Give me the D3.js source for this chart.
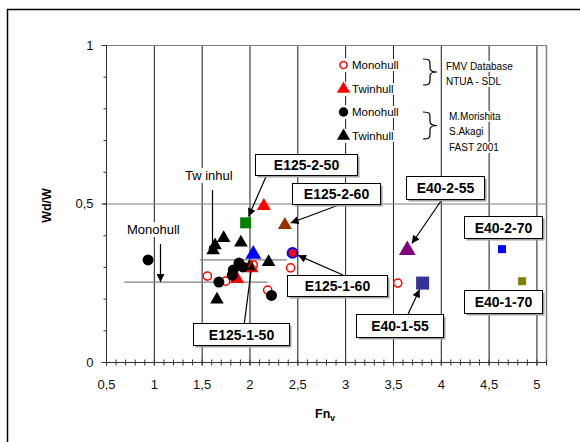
<!DOCTYPE html>
<html>
<head>
<meta charset="utf-8">
<script src="https://cdn.jsdelivr.net/npm/d3@7"></script>
<style>
  html, body { margin: 0; padding: 0; background: #fff; }
  svg { display: block; font-family: Arial, "Liberation Sans", sans-serif; }
</style>
</head>
<body>
<svg id="chart" width="580" height="442"></svg>
<script>
// ---- data: Fn_v (x) and Wd/W (y) ----
const fmvMonohull = [[1.56, 0.271], [1.75, 0.255], [2.04, 0.306], [2.19, 0.227], [2.43, 0.297], [3.55, 0.249]];
const fmvTwinhull = [[2.15, 0.492], [1.87, 0.262], [2.02, 0.296]];
const fastMonohull = [[0.94, 0.322], [1.68, 0.252], [2.23, 0.21], [1.82, 0.274], [1.83, 0.29], [1.89, 0.312], [1.93, 0.30]];
const fastTwinhull = [[1.73, 0.391], [1.64, 0.368], [1.62, 0.352], [1.91, 0.377], [2.2, 0.315], [2.0, 0.30], [1.66, 0.197]];

const modelNames = ["E125-2-50", "E125-2-60", "E125-1-60", "E125-1-50", "E40-2-55", "E40-1-55", "E40-2-70", "E40-1-70"];
const modelFn    = [1.96, 2.37, 2.45, 2.04, 3.65, 3.81, 4.64, 4.85];
const modelWd    = [0.439, 0.432, 0.344, 0.340, 0.353, 0.249, 0.356, 0.255];

// mean lines and their annotations
const monohullMean = { wd: 0.252, fnFrom: 0.69, fnTo: 2.19 };
const twinhullMean = { wd: 0.322, fnFrom: 1.48, fnTo: 2.39 };

const xMajorTicks = [0.5, 1, 1.5, 2, 2.5, 3, 3.5, 4, 4.5, 5];
const yMajorTicks = [0, 0.5, 1];

// ---- layout ----
const svg = d3.select("#chart");
const plotL = 106, plotR = 546, plotT = 45, plotB = 362;
const x = d3.scaleLinear().domain([0.5, 5.1]).range([plotL, plotR]);
const y = d3.scaleLinear().domain([0, 1]).range([plotB, plotT]);
const comma = d => String(d).replace(".", ",");

// chart frame
svg.append("rect").attr("x", 7.5).attr("y", 9.5).attr("width", 620).attr("height", 500)
  .attr("fill", "none").attr("stroke", "#000").attr("stroke-width", 1.5);

// grid
const grid = svg.append("g");
grid.selectAll("line.v").data(xMajorTicks.filter(d => d > 0.5)).join("line")
  .attr("x1", d => x(d) + 0.5).attr("x2", d => x(d) + 0.5)
  .attr("y1", plotT).attr("y2", plotB)
  .attr("stroke", "#1a1a1a").attr("stroke-width", 1);
grid.selectAll("line.h").data([0.5, 1]).join("line")
  .attr("x1", plotL).attr("x2", plotR)
  .attr("y1", d => y(d) + 0.5).attr("y2", d => y(d) + 0.5)
  .attr("stroke", "#808080").attr("stroke-width", 1.2);
grid.append("line").attr("x1", plotR + 0.5).attr("x2", plotR + 0.5)
  .attr("y1", plotT).attr("y2", plotB).attr("stroke", "#808080").attr("stroke-width", 1.5);

// axes
const xMinor = d3.range(5, 52).map(i => i / 10);
const yMinor = d3.range(0, 11).map(i => i / 10);
const xAxisMinor = d3.axisBottom(x).tickValues(xMinor).tickSizeInner(3).tickSizeOuter(0).tickFormat("");
const gxm = svg.append("g").attr("transform", `translate(0,${plotB + 0.5})`).call(xAxisMinor);
gxm.selectAll(".tick line").attr("y1", -3);
const xAxis = d3.axisBottom(x).tickValues(xMajorTicks).tickSize(3).tickSizeOuter(0).tickFormat(comma);
const gx = svg.append("g").attr("transform", `translate(0,${plotB + 0.5})`).call(xAxis);
gx.selectAll(".tick text").attr("font-size", 13).attr("font-family", "Arial, 'Liberation Sans'").attr("fill", "#111").attr("dy", "1.55em");
[gx, gxm].forEach(g => { g.select(".domain").attr("stroke", "#333").attr("d", `M${plotL},0H${plotR}`); g.selectAll(".tick line").attr("stroke", "#333"); });

const yAxisMinor = d3.axisLeft(y).tickValues(yMinor).tickSizeInner(3).tickSizeOuter(0).tickFormat("");
const gym = svg.append("g").attr("transform", `translate(${plotL + 0.5},0)`).call(yAxisMinor);
const yAxis = d3.axisLeft(y).tickValues(yMajorTicks).tickSize(5).tickSizeOuter(0).tickFormat(comma);
const gy = svg.append("g").attr("transform", `translate(${plotL + 0.5},0)`).call(yAxis);
gy.selectAll(".tick text").attr("font-size", 13).attr("font-family", "Arial, 'Liberation Sans'").attr("fill", "#111").attr("x", -13);
[gy, gym].forEach(g => { g.select(".domain").attr("stroke", "#333").attr("d", `M0,${plotT}V${plotB}`); g.selectAll(".tick line").attr("stroke", "#333"); });

// axis titles
svg.append("text").attr("transform", `translate(51,${(plotT + plotB) / 2 + 2}) rotate(-90)`)
  .attr("text-anchor", "middle").attr("font-size", 12.5).attr("font-weight", "bold").text("Wd/W");
const xt = svg.append("text").attr("x", 315).attr("y", 418).attr("font-size", 12.5).attr("font-weight", "bold");
xt.append("tspan").text("Fn");
xt.append("tspan").attr("font-size", 8.5).attr("dy", 3).text("v");

// arrow marker
svg.append("defs").append("marker").attr("id", "arr")
  .attr("viewBox", "0 0 10 10").attr("refX", 10).attr("refY", 5)
  .attr("markerUnits", "userSpaceOnUse").attr("markerWidth", 11).attr("markerHeight", 8)
  .attr("orient", "auto")
  .append("path").attr("d", "M0,0L10,5L0,10Z").attr("fill", "#000");

// white-backed text helper
function label(g, tx, ty, str, opts = {}) {
  const t = g.append("text").attr("x", tx).attr("y", ty)
    .attr("font-size", opts.size || 11).attr("font-weight", opts.weight || "normal")
    .attr("fill", "#000").text(str);
  const b = t.node().getBBox();
  g.insert("rect", () => t.node()).attr("x", b.x - 1).attr("y", b.y).attr("width", b.width + 2).attr("height", b.height).attr("fill", "#fff");
  return t;
}

// mean-value annotations
const ann = svg.append("g");
ann.append("line").attr("x1", x(monohullMean.fnFrom)).attr("x2", x(monohullMean.fnTo))
  .attr("y1", y(monohullMean.wd)).attr("y2", y(monohullMean.wd)).attr("stroke", "#808080").attr("stroke-width", 1.3);
ann.append("line").attr("x1", x(twinhullMean.fnFrom)).attr("x2", x(twinhullMean.fnTo))
  .attr("y1", y(twinhullMean.wd)).attr("y2", y(twinhullMean.wd)).attr("stroke", "#808080").attr("stroke-width", 1.3);
label(ann, 127, 234, "Monohull", { size: 13 });
label(ann, 185, 180, "Tw inhul", { size: 13 });
ann.append("line").attr("x1", 160.5).attr("x2", 160.5).attr("y1", 244).attr("y2", y(monohullMean.wd))
  .attr("stroke", "#000").attr("stroke-width", 1.2).attr("marker-end", "url(#arr)");
ann.append("line").attr("x1", 212.5).attr("x2", 212.5).attr("y1", 190).attr("y2", 254)
  .attr("stroke", "#000").attr("stroke-width", 1.2).attr("marker-end", "url(#arr)");

// marks
const marks = svg.append("g");
const tri = s => d3.symbol(d3.symbolTriangle, s)();
const circ = s => d3.symbol(d3.symbolCircle, s)();
const sq = s => d3.symbol(d3.symbolSquare, s)();

marks.selectAll("path.fm").data(fmvMonohull).join("path")
  .attr("transform", d => `translate(${x(d[0])},${y(d[1])})`).attr("d", circ(52))
  .attr("fill", "#fff").attr("stroke", "#ff0000").attr("stroke-width", 1.5);
marks.selectAll("path.ft").data(fastTwinhull).join("path")
  .attr("transform", d => `translate(${x(d[0])},${y(d[1])})`).attr("d", tri(80)).attr("fill", "#000");
marks.selectAll("path.fw").data(fmvTwinhull).join("path")
  .attr("transform", d => `translate(${x(d[0])},${y(d[1])})`).attr("d", tri(85)).attr("fill", "#ff0000");
marks.selectAll("path.mm").data(fastMonohull).join("path")
  .attr("transform", d => `translate(${x(d[0])},${y(d[1])})`).attr("d", circ(95)).attr("fill", "#000");

const models = modelNames.map((n, i) => ({ name: n, fn: modelFn[i], wd: modelWd[i] }));
const modelStyle = {
  "E125-2-50": { shape: sq(121), fill: "#008000" },
  "E125-2-60": { shape: tri(85), fill: "#993300" },
  "E125-1-60": { shape: circ(75), fill: "#ff0000", stroke: "#0000ff" },
  "E125-1-50": { shape: tri(110), fill: "#0000ff" },
  "E40-2-55":  { shape: tri(120), fill: "#800080" },
  "E40-1-55":  { shape: sq(169), fill: "#333399" },
  "E40-2-70":  { shape: sq(64), fill: "#0000ff" },
  "E40-1-70":  { shape: sq(64), fill: "#808000" }
};
marks.selectAll("path.md").data(models).join("path")
  .attr("transform", d => `translate(${x(d.fn)},${y(d.wd)})`)
  .attr("d", d => modelStyle[d.name].shape)
  .attr("fill", d => modelStyle[d.name].fill)
  .attr("stroke", d => modelStyle[d.name].stroke || "none")
  .attr("stroke-width", 2);

// model call-out boxes: centre offset from the mark, size, arrow start relative to box centre, gap at the mark
const callout = {
  "E125-2-50": { dx: 60, dy: -58, w: 102, h: 21, ax: -39, ay: 10.5, gap: 7 },
  "E125-2-60": { dx: 51, dy: -32, w: 88, h: 21, ax: 7, ay: 10.5, gap: 6 },
  "E125-1-60": { dx: 44.5, dy: 32.6, w: 100, h: 21, ax: 6, ay: -10.5, gap: 6 },
  "E125-1-50": { dx: -12, dy: 80, w: 96, h: 22, ax: 3, ay: -11, gap: 8 },
  "E40-2-55":  { dx: 38, dy: -62.6, w: 78, h: 23, ax: -3, ay: 11.5, gap: 8 },
  "E40-1-55":  { dx: -23, dy: 42.4, w: 87, h: 23, ax: 8.5, ay: -11.5, gap: 7 },
  "E40-2-70":  { dx: 1, dy: -22, w: 78, h: 22 },
  "E40-1-70":  { dx: -19, dy: 20, w: 78, h: 23 }
};
const co = svg.append("g");
models.forEach(m => {
  const c = callout[m.name];
  const px = x(m.fn), py = y(m.wd);
  const cx = px + c.dx, cy = py + c.dy;
  if (c.ax !== undefined) {
    const sx = cx + c.ax, sy = cy + c.ay;
    const len = Math.hypot(px - sx, py - sy);
    const ex = px - (px - sx) / len * c.gap, ey = py - (py - sy) / len * c.gap;
    co.append("line").attr("x1", sx).attr("y1", sy).attr("x2", ex).attr("y2", ey)
      .attr("stroke", "#000").attr("stroke-width", 1.2).attr("marker-end", "url(#arr)");
  }
  const bx = Math.round(cx - c.w / 2) + 0.5, by = Math.round(cy - c.h / 2) + 0.5;
  co.append("rect").attr("x", bx + 2).attr("y", by + 2).attr("width", c.w).attr("height", c.h).attr("fill", "#a0a0a0");
  co.append("rect").attr("x", bx).attr("y", by).attr("width", c.w).attr("height", c.h)
    .attr("fill", "#fff").attr("stroke", "#000").attr("stroke-width", 1);
  co.append("text").attr("x", bx + c.w / 2).attr("y", by + c.h / 2 + 5)
    .attr("text-anchor", "middle").attr("font-size", 14).attr("font-weight", "bold").text(m.name);
});

// legend
const lg = svg.append("g");
const legendRows = [
  { y: 65, label: "Monohull", shape: circ(40), fill: "#fff", stroke: "#ff0000" },
  { y: 89, label: "Twinhull", shape: tri(75), fill: "#ff0000" },
  { y: 112, label: "Monohull", shape: circ(70), fill: "#000" },
  { y: 136, label: "Twinhull", shape: tri(75), fill: "#000" }
];
legendRows.forEach(r => {
  lg.append("rect").attr("x", 337).attr("y", r.y - 7).attr("width", 13).attr("height", 14).attr("fill", "#fff");
  lg.append("path").attr("transform", `translate(343.5,${r.y})`).attr("d", r.shape)
    .attr("fill", r.fill).attr("stroke", r.stroke || "none").attr("stroke-width", 1.5);
  label(lg, 352, r.y + 4, r.label, { size: 11.5 });
});
const brace = (x0, y0, y1) => {
  const m = (y0 + y1) / 2, w = 7;
  return `M${x0},${y0} C${x0 + w},${y0} ${x0 + w},${y0 + 2} ${x0 + w},${y0 + 5} L${x0 + w},${m - 4} C${x0 + w},${m - 1} ${x0 + w + 2},${m} ${x0 + 2 * w},${m}` +
         ` C${x0 + w + 2},${m} ${x0 + w},${m + 1} ${x0 + w},${m + 4} L${x0 + w},${y1 - 5} C${x0 + w},${y1 - 2} ${x0 + w},${y1} ${x0},${y1}`;
};
lg.append("path").attr("d", brace(423, 59, 85)).attr("fill", "none").attr("stroke", "#000").attr("stroke-width", 1.2);
lg.append("path").attr("d", brace(423, 112, 139)).attr("fill", "none").attr("stroke", "#000").attr("stroke-width", 1.2);
label(lg, 446, 70, "FMV  Database", { size: 10 });
label(lg, 446, 85, "NTUA - SDL", { size: 10 });
label(lg, 449, 120, "M.Morishita", { size: 10 });
label(lg, 449, 135, "S.Akagi", { size: 10 });
label(lg, 449, 151, "FAST 2001", { size: 10 });
</script>
</body>
</html>
